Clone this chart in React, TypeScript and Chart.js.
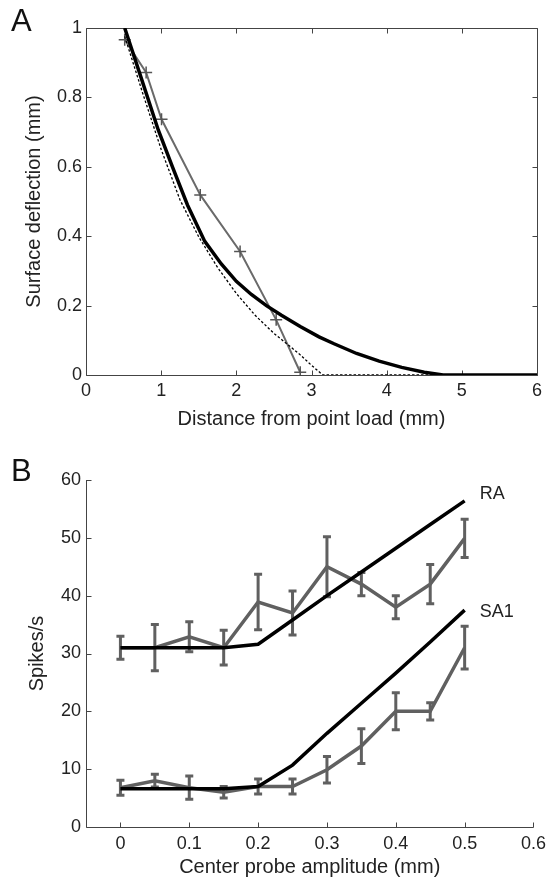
import React, { useEffect, useRef } from 'react';
import { Chart, registerables } from 'chart.js';

Chart.register(...registerables);

const FONT = '"Liberation Sans", Arial, Helvetica, sans-serif';
const TEXT = '#222222';
const GRAY = '#606060';
const AXIS = '#444444';

// ---------- Panel A : surface deflection ----------
const measuredX = [0.515, 0.8, 1.005, 1.52, 2.05, 2.53, 2.85];
const measuredY = [0.966, 0.872, 0.737, 0.519, 0.356, 0.159, 0.008];
const modelAX = [0.515, 0.71, 0.96, 1.15, 1.35, 1.58, 1.8, 2.0, 2.2, 2.4, 2.6, 2.85, 3.1, 3.3, 3.6, 3.9, 4.2, 4.5, 4.75, 6];
const modelAY = [1.0, 0.872, 0.707, 0.6, 0.49, 0.385, 0.32, 0.27, 0.232, 0.2, 0.172, 0.14, 0.11, 0.09, 0.062, 0.04, 0.022, 0.008, 0, 0];
const theoryX = [0.515, 0.75, 1.0, 1.25, 1.5, 1.75, 2.0, 2.25, 2.5, 2.7, 2.85, 3.0, 3.15, 6];
const theoryY = [0.976, 0.815, 0.65, 0.505, 0.398, 0.31, 0.235, 0.172, 0.12, 0.085, 0.058, 0.028, 0, 0];
const aXTicks = [0, 1, 2, 3, 4, 5, 6];
const aYTicks = [0, 0.2, 0.4, 0.6, 0.8, 1];

// ---------- Panel B : spikes ----------
const amplitudes = [0, 0.05, 0.1, 0.15, 0.2, 0.25, 0.3, 0.35, 0.4, 0.45, 0.5];
const raMean = [31, 31, 32.9, 31, 38.9, 37, 45, 42, 38, 42, 49.9];
const raSem = [2, 4, 2.6, 3, 4.8, 3.8, 5.2, 2, 2, 3.4, 3.3];
const raModel = [31, 31, 31, 31, 31.6, 35.8, 40, 44.1, 48.2, 52.3, 56.4];
const sa1Mean = [6.8, 8, 6.8, 6, 7, 7, 9.9, 14, 20, 20, 31];
const sa1Sem = [1.3, 1.1, 2, 1, 1.3, 1.3, 2.3, 3, 3.2, 1.5, 3.7];
const sa1Model = [6.6, 6.6, 6.6, 6.6, 7.0, 10.7, 16.2, 21.4, 26.6, 32, 37.5];
const bXTicks = [0, 0.1, 0.2, 0.3, 0.4, 0.5, 0.6];
const bYTicks = [0, 10, 20, 30, 40, 50, 60];
const seriesNames = ['RA', 'SA1'];

const pts = (xs: number[], ys: number[]) => xs.map((x, i) => ({ x, y: ys[i] }));

const framePlugin = {
  id: 'frame',
  beforeDatasetsDraw(chart: any, _args: any, opts: any) {
    const { ctx, chartArea, scales } = chart;
    const { left, right, top, bottom } = chartArea;
    const xs = scales.x;
    const ys = scales.y;
    const L = opts.tick || 5;
    ctx.save();
    ctx.strokeStyle = opts.color || AXIS;
    ctx.lineWidth = 1;
    ctx.beginPath();
    const l = Math.round(left) + 0.5;
    const b = Math.round(bottom) + 0.5;
    const r = Math.round(right) + 0.5;
    const t = Math.round(top) + 0.5;
    ctx.moveTo(l, opts.box ? t : top);
    ctx.lineTo(l, b);
    ctx.lineTo(r, b);
    if (opts.box) {
      ctx.lineTo(r, t);
      ctx.lineTo(l, t);
    }
    xs.ticks.forEach((tk: any) => {
      const p = Math.round(xs.getPixelForValue(tk.value)) + 0.5;
      ctx.moveTo(p, b);
      ctx.lineTo(p, b - L);
      if (opts.box) {
        ctx.moveTo(p, t);
        ctx.lineTo(p, t + L);
      }
    });
    ys.ticks.forEach((tk: any) => {
      const p = Math.round(ys.getPixelForValue(tk.value)) + 0.5;
      ctx.moveTo(l, p);
      ctx.lineTo(l + L, p);
      if (opts.box) {
        ctx.moveTo(r, p);
        ctx.lineTo(r - L, p);
      }
    });
    ctx.stroke();
    ctx.restore();
  },
};

const errorBarPlugin = {
  id: 'errbars',
  beforeDatasetsDraw(chart: any) {
    const { ctx, scales } = chart;
    const xs = scales.x;
    const ys = scales.y;
    const groups = [
      { mean: raMean, sem: raSem },
      { mean: sa1Mean, sem: sa1Sem },
    ];
    ctx.save();
    ctx.strokeStyle = GRAY;
    ctx.lineWidth = 3;
    ctx.lineCap = 'butt';
    groups.forEach((g) => {
      amplitudes.forEach((a, i) => {
        const px = xs.getPixelForValue(a);
        const yTop = ys.getPixelForValue(g.mean[i] + g.sem[i]);
        const yBot = ys.getPixelForValue(g.mean[i] - g.sem[i]);
        ctx.beginPath();
        ctx.moveTo(px, yTop);
        ctx.lineTo(px, yBot);
        ctx.moveTo(px - 4, yTop);
        ctx.lineTo(px + 4, yTop);
        ctx.moveTo(px - 4, yBot);
        ctx.lineTo(px + 4, yBot);
        ctx.stroke();
      });
    });
    ctx.restore();
  },
};

const namePlugin = {
  id: 'names',
  afterDatasetsDraw(chart: any) {
    const { ctx, scales } = chart;
    const xs = scales.x;
    const ys = scales.y;
    const last = amplitudes.length - 1;
    const ends = [raModel[last], sa1Model[last]];
    const dy = [-7, 2];
    ctx.save();
    ctx.fillStyle = TEXT;
    ctx.font = `18px ${FONT}`;
    ctx.textAlign = 'left';
    ctx.textBaseline = 'middle';
    seriesNames.forEach((n, i) => {
      const px = xs.getPixelForValue(amplitudes[last]) + 15;
      const py = ys.getPixelForValue(ends[i]) + dy[i];
      ctx.fillText(n, px, py);
    });
    ctx.restore();
  },
};

function axisBase(ticksArr: number[], isY: boolean, size: number, pad: number, title: string, titlePad: any, min: number, max: number) {
  return {
    type: 'linear',
    min,
    max,
    afterBuildTicks: (s: any) => {
      s.ticks = ticksArr.map((v) => ({ value: v }));
    },
    afterFit: (s: any) => {
      if (isY) s.width = size;
      else s.height = size;
    },
    grid: { display: false, drawTicks: false },
    border: { display: false },
    ticks: {
      autoSkip: false,
      maxRotation: 0,
      padding: pad,
      color: TEXT,
      font: { family: FONT, size: 18 },
      callback: (v: any) => String(v),
    },
    title: {
      display: true,
      text: title,
      color: TEXT,
      font: { family: FONT, size: 20 },
      padding: titlePad,
    },
  };
}

export default function App() {
  const refA = useRef<HTMLCanvasElement>(null);
  const refB = useRef<HTMLCanvasElement>(null);

  useEffect(() => {
    const chartA = new Chart(refA.current as HTMLCanvasElement, {
      type: 'line',
      data: {
        datasets: [
          {
            label: 'model',
            data: pts(modelAX, modelAY),
            borderColor: '#000000',
            borderWidth: 3.5,
            pointRadius: 0,
            tension: 0,
          },
          {
            label: 'theory',
            data: pts(theoryX, theoryY),
            borderColor: '#000000',
            borderWidth: 1.3,
            borderDash: [2.5, 2],
            pointRadius: 0,
            tension: 0,
          },
          {
            label: 'measured',
            data: pts(measuredX, measuredY),
            borderColor: '#6a6a6a',
            borderWidth: 2,
            pointStyle: 'cross',
            pointRadius: 6,
            pointBorderWidth: 1.5,
            pointBorderColor: '#555555',
            tension: 0,
          },
        ],
      } as any,
      options: {
        responsive: false,
        animation: false,
        layout: { padding: { left: 0, right: 15, top: 28, bottom: 0 } },
        plugins: {
          legend: { display: false },
          tooltip: { enabled: false },
          frame: { box: true, color: AXIS, tick: 5 },
        } as any,
        scales: {
          x: axisBase(aXTicks, false, 65, 5, 'Distance from point load (mm)', { top: 0, bottom: 9 }, 0, 6),
          y: axisBase(aYTicks, true, 86, 4, 'Surface deflection (mm)', { top: 22, bottom: 0 }, 0, 1),
        } as any,
      },
      plugins: [framePlugin],
    });

    const chartB = new Chart(refB.current as HTMLCanvasElement, {
      type: 'line',
      data: {
        datasets: [
          {
            label: 'RA model',
            data: pts(amplitudes, raModel),
            borderColor: '#000000',
            borderWidth: 3.5,
            pointRadius: 0,
            tension: 0,
          },
          {
            label: 'SA1 model',
            data: pts(amplitudes, sa1Model),
            borderColor: '#000000',
            borderWidth: 3.5,
            pointRadius: 0,
            tension: 0,
          },
          {
            label: 'RA',
            data: pts(amplitudes, raMean),
            borderColor: GRAY,
            borderWidth: 3.5,
            pointRadius: 0,
            tension: 0,
          },
          {
            label: 'SA1',
            data: pts(amplitudes, sa1Mean),
            borderColor: GRAY,
            borderWidth: 3.5,
            pointRadius: 0,
            tension: 0,
          },
        ],
      } as any,
      options: {
        responsive: false,
        animation: false,
        layout: { padding: { left: 0, right: 16, top: 40, bottom: 0 } },
        plugins: {
          legend: { display: false },
          tooltip: { enabled: false },
          frame: { box: false, color: AXIS, tick: 5 },
        } as any,
        scales: {
          x: axisBase(bXTicks, false, 55, 6, 'Center probe amplitude (mm)', { top: 0, bottom: 3 }, -0.05, 0.6),
          y: axisBase(bYTicks, true, 86, 5, 'Spikes/s', { top: 25, bottom: 0 }, 0, 60),
        } as any,
      },
      plugins: [framePlugin, errorBarPlugin, namePlugin],
    });

    return () => {
      chartA.destroy();
      chartB.destroy();
    };
  }, []);

  const letter: React.CSSProperties = {
    position: 'absolute',
    left: 11,
    fontFamily: FONT,
    fontSize: 31,
    lineHeight: '31px',
    color: '#111111',
  };

  return (
    <div style={{ position: 'absolute', left: 0, top: 0, width: 552, height: 882, background: '#ffffff', overflow: 'hidden' }}>
      <canvas ref={refA} width={552} height={440} style={{ position: 'absolute', left: 0, top: 0, width: 552, height: 440 }} />
      <canvas ref={refB} width={552} height={442} style={{ position: 'absolute', left: 0, top: 440, width: 552, height: 442 }} />
      <div style={{ ...letter, top: 5 }}>A</div>
      <div style={{ ...letter, top: 455 }}>B</div>
    </div>
  );
}
